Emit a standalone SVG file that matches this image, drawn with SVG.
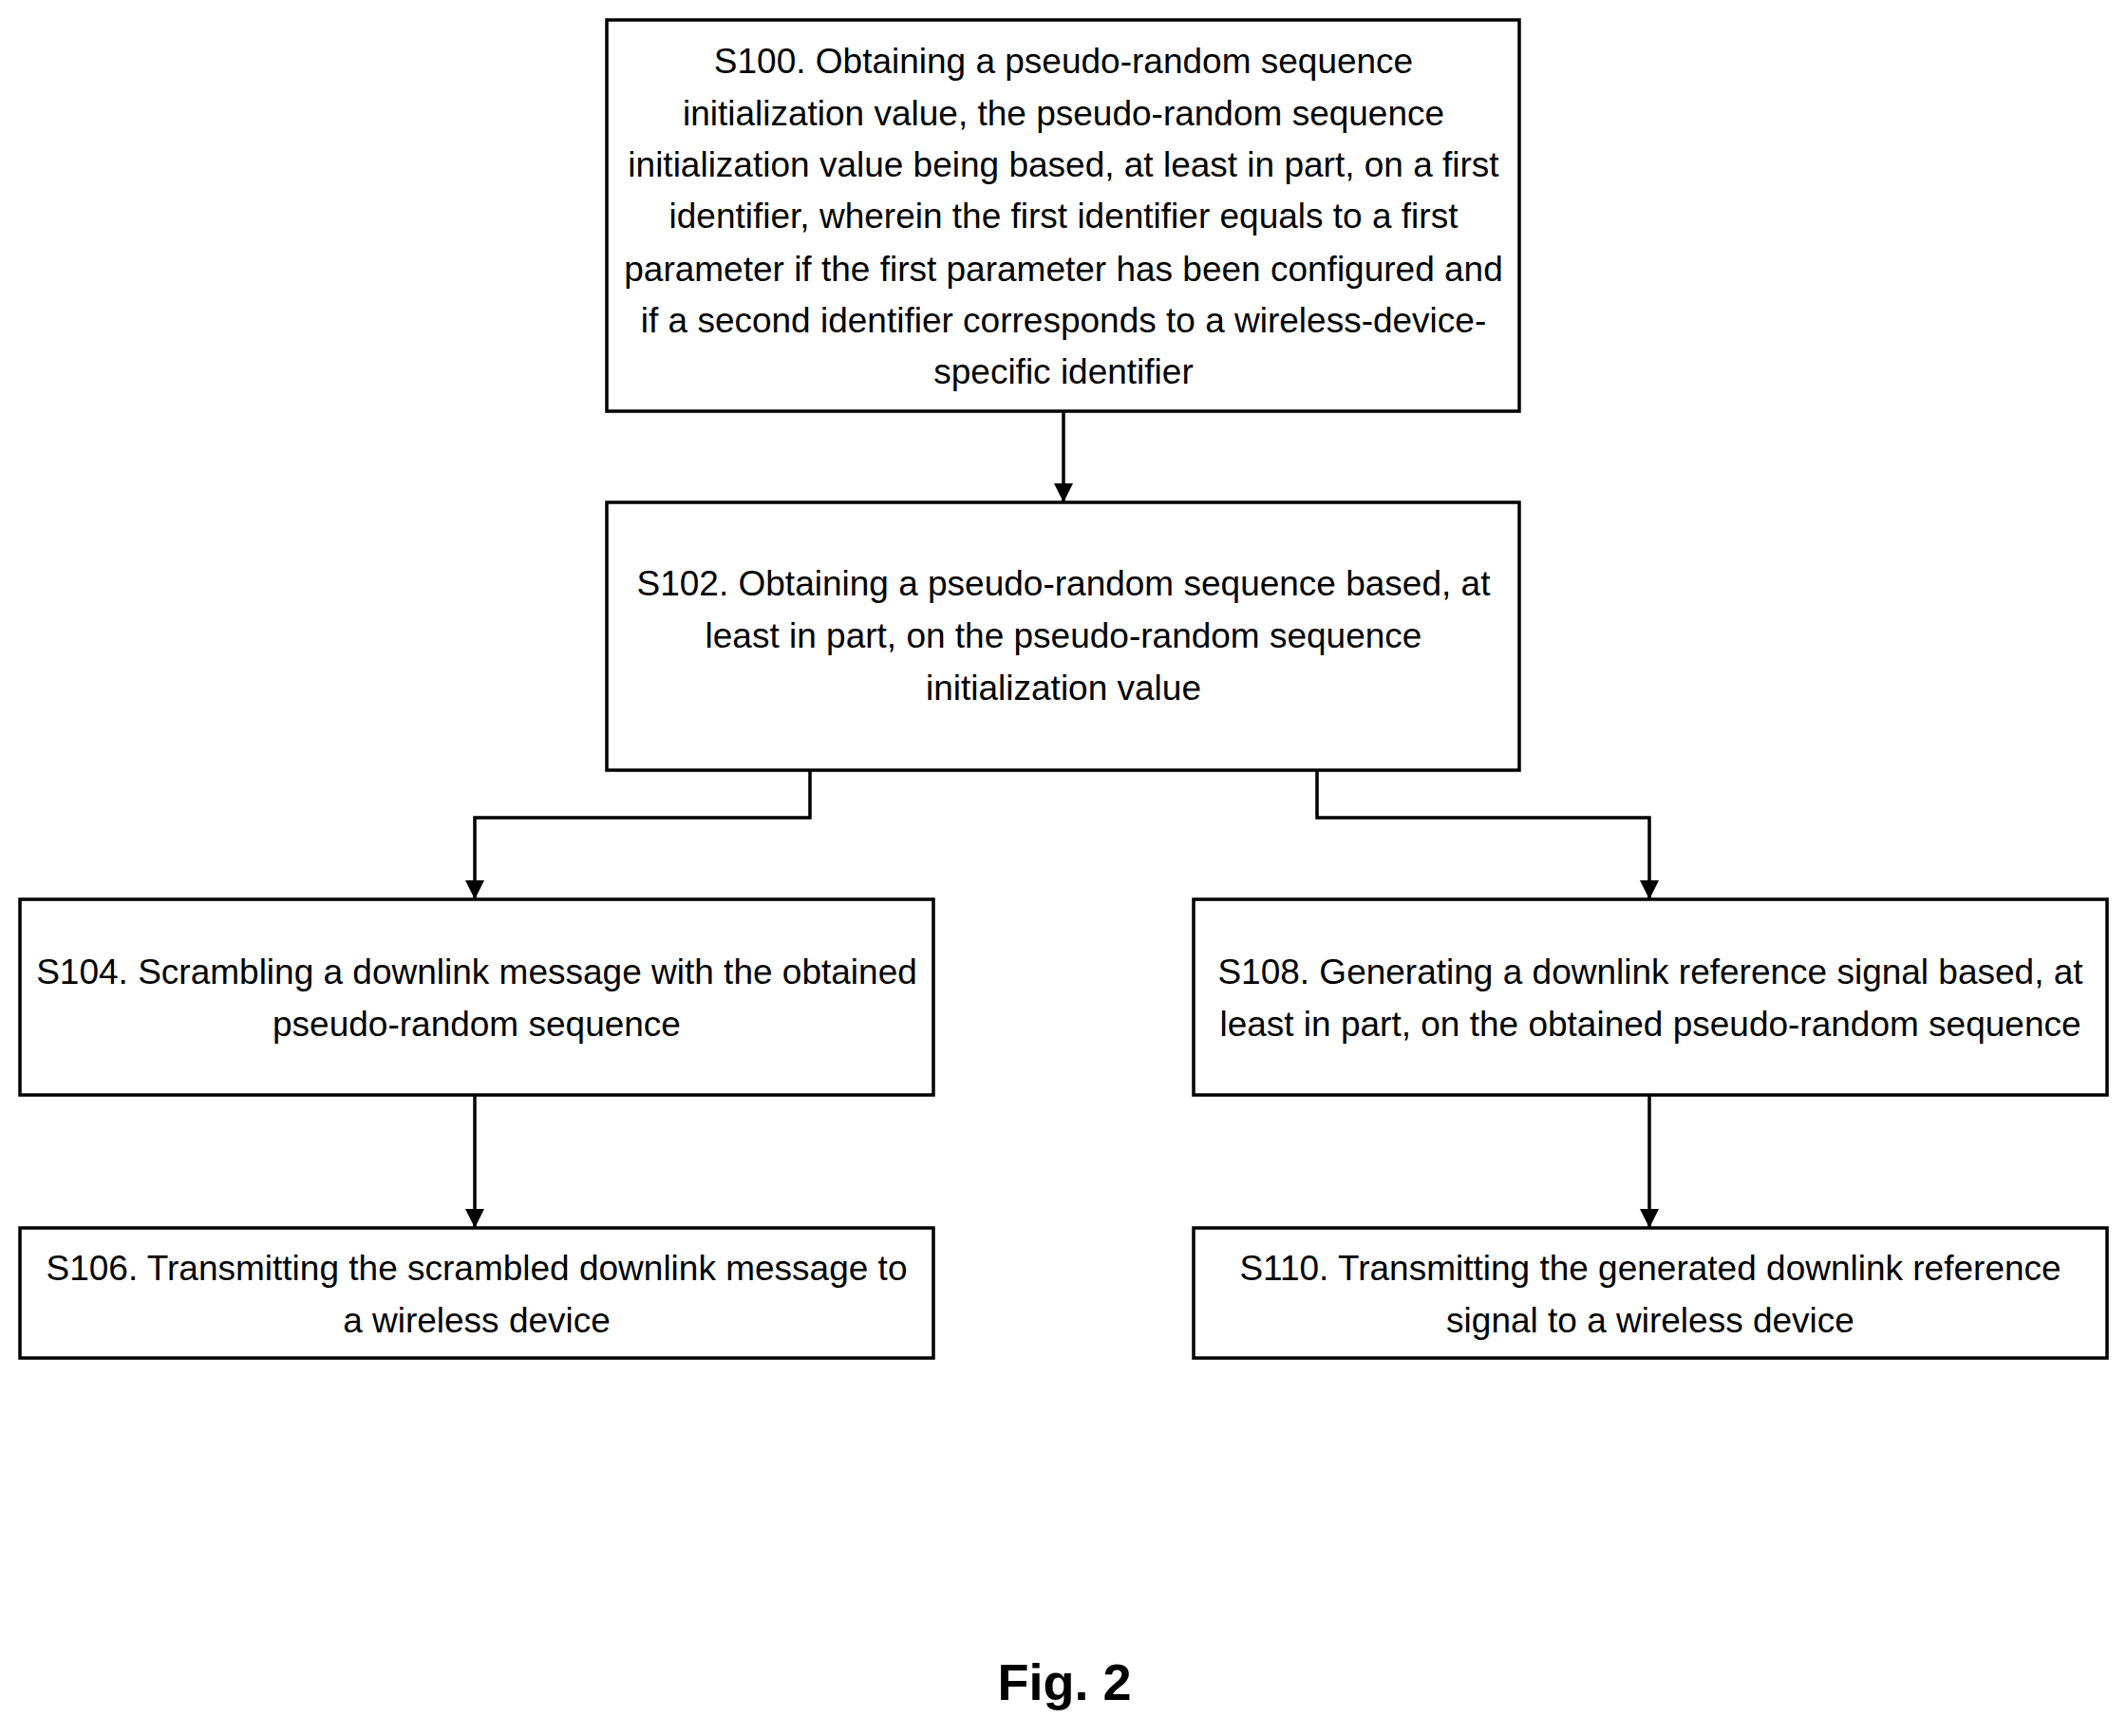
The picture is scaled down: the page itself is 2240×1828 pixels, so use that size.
<svg xmlns="http://www.w3.org/2000/svg" width="2240" height="1828" viewBox="0 0 2240 1828">
<style>
.b{fill:#fff;stroke:#000;stroke-width:3.5}
text{font-family:"Liberation Sans",Arial,sans-serif;font-size:37px;text-anchor:middle;fill:#000}
.c{fill:none;stroke:#000;stroke-width:3.5}
</style>
<defs><marker id="a" markerWidth="20" markerHeight="20" refX="18" refY="9" orient="auto" markerUnits="userSpaceOnUse" viewBox="0 0 18 18"><path d="M0,0L18,9L0,18z"/></marker></defs>
<rect width="2240" height="1828" fill="#fff"/>
<g id="connectors">
<path class="c" d="M1120,433V529" marker-end="url(#a)"/>
<path class="c" d="M853,811V861H500V947" marker-end="url(#a)"/>
<path class="c" d="M1387,811V861H1737V947" marker-end="url(#a)"/>
<path class="c" d="M500,1153V1293" marker-end="url(#a)"/>
<path class="c" d="M1737,1153V1293" marker-end="url(#a)"/>
</g>
<g id="s100"><rect class="b" x="639" y="21" width="961" height="412"/>
<text x="1120" y="77">S100. Obtaining a pseudo-random sequence</text>
<text x="1120" y="132">initialization value, the pseudo-random sequence</text>
<text x="1120" y="186">initialization value being based, at least in part, on a first</text>
<text x="1120" y="240">identifier, wherein the first identifier equals to a first</text>
<text x="1120" y="296">parameter if the first parameter has been configured and</text>
<text x="1120" y="350">if a second identifier corresponds to a wireless-device-</text>
<text x="1120" y="404">specific identifier</text></g>
<g id="s102"><rect class="b" x="639" y="529" width="961" height="282"/>
<text x="1120" y="627">S102. Obtaining a pseudo-random sequence based, at</text>
<text x="1120" y="682">least in part, on the pseudo-random sequence</text>
<text x="1120" y="737">initialization value</text></g>
<g id="s104"><rect class="b" x="21" y="947" width="962" height="206"/>
<text x="502" y="1036">S104. Scrambling a downlink message with the obtained</text>
<text x="502" y="1091">pseudo-random sequence</text></g>
<g id="s108"><rect class="b" x="1257" y="947" width="962" height="206"/>
<text x="1738" y="1036">S108. Generating a downlink reference signal based, at</text>
<text x="1738" y="1091">least in part, on the obtained pseudo-random sequence</text></g>
<g id="s106"><rect class="b" x="21" y="1293" width="962" height="137"/>
<text x="502" y="1348">S106. Transmitting the scrambled downlink message to</text>
<text x="502" y="1403">a wireless device</text></g>
<g id="s110"><rect class="b" x="1257" y="1293" width="962" height="137"/>
<text x="1738" y="1348">S110. Transmitting the generated downlink reference</text>
<text x="1738" y="1403">signal to a wireless device</text></g>
<text x="1121" y="1790" style="font-size:54px;font-weight:bold">Fig. 2</text>
</svg>
